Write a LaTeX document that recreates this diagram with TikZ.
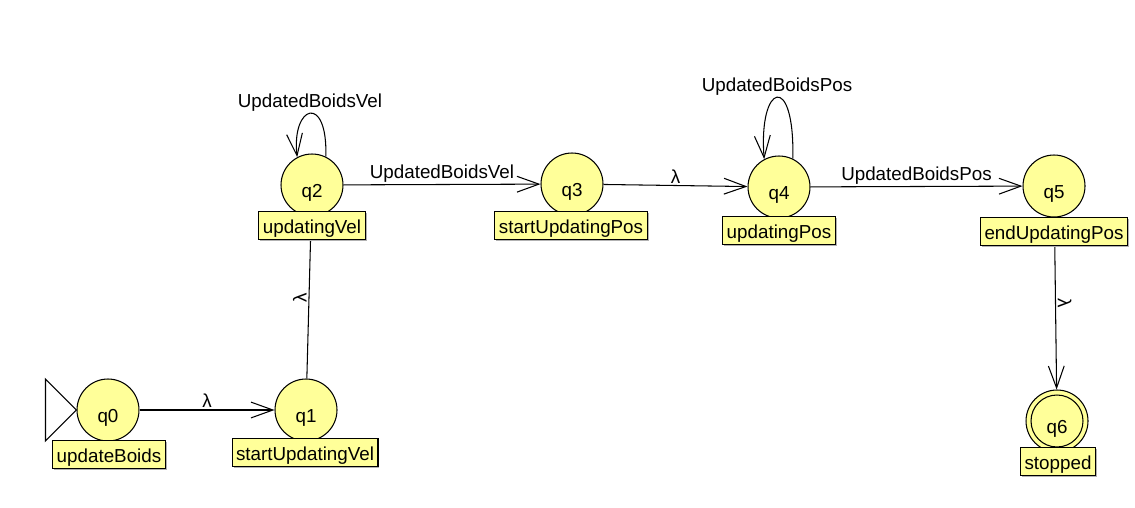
\documentclass[tikz,border=0pt]{standalone}
\usepackage{fontspec}
\setmainfont{Liberation Sans}
\usetikzlibrary{arrows.meta,shadows}
\definecolor{stfill}{HTML}{FFFF99}
\begin{document}
\begin{tikzpicture}[x=0.02cm,y=-0.02cm,line width=0.6pt,
  font=\fontsize{10.7pt}{12pt}\selectfont,
  state/.style={circle, draw, fill=stfill, minimum size=1.24cm, inner sep=0pt,
    text height=0.5cm, text depth=0pt},
  namebox/.style={rectangle, draw, fill=stfill, inner xsep=0.08cm, inner ysep=0pt,
    minimum height=0.56cm, text height=0.4cm, text depth=0.1cm, anchor=north,
    drop shadow={shadow xshift=0.03cm, shadow yshift=-0.03cm, fill=black!30, opacity=1}},
  trans/.style={-{Straight Barb[length=12.5pt,width=9pt]}},
  lbl/.style={inner sep=1pt}
]
\useasboundingbox[fill=white] (0,0) rectangle (1135,507);

% states
\node[state] (q0) at (108,410) {q0};
\node[state] (q1) at (306,410) {q1};
\node[state] (q2) at (312,185) {q2};
\node[state] (q3) at (572,184) {q3};
\node[state] (q4) at (779,187) {q4};
\node[state] (q5) at (1054,186) {q5};
\node[state] (q6) at (1057,421) {q6};
\node[circle, draw, minimum size=1.04cm, inner sep=0pt] (q6in) at (q6.center) {};

% start marker
\draw (q0.west) -- ++(-31,-31) -- ++(0,62) -- cycle;

% transitions
\draw[trans] (q0) -- node[lbl, above] {λ} (q1);
\draw[trans] (q1) -- node[lbl, midway, rotate=90, anchor=south] {λ} (q2);
\draw[trans] (q2) -- node[lbl, above] {UpdatedBoidsVel} (q3);
\draw[trans] (q3) -- node[lbl, above] {λ} (q4);
\draw[trans] (q4) -- node[lbl, above] {UpdatedBoidsPos} (q5);
\draw[trans] (q5) -- node[lbl, midway, rotate=-90, anchor=south] {λ} (q6);
\draw[trans] (q2.64) .. controls +(2,-64) and +(-6,-52) .. (q2.118)
  node[lbl, pos=0.5, above] {UpdatedBoidsVel};
\draw[trans] (q4.64) .. controls +(2,-88) and +(-6,-76) .. (q4.118)
  node[lbl, pos=0.5, above] {UpdatedBoidsPos};

% state names
\node[namebox] (b0) at (109,440) {updateBoids};
\node[namebox] (b1) at (305,438) {startUpdatingVel};
\node[namebox] (b2) at (312,211) {updatingVel};
\node[namebox] (b3) at (571,211) {startUpdatingPos};
\node[namebox] (b4) at (779,216) {updatingPos};
\node[namebox] (b5) at (1054,217) {endUpdatingPos};
\node[namebox] (b6) at (1058,447) {stopped};
\end{tikzpicture}
\end{document}
